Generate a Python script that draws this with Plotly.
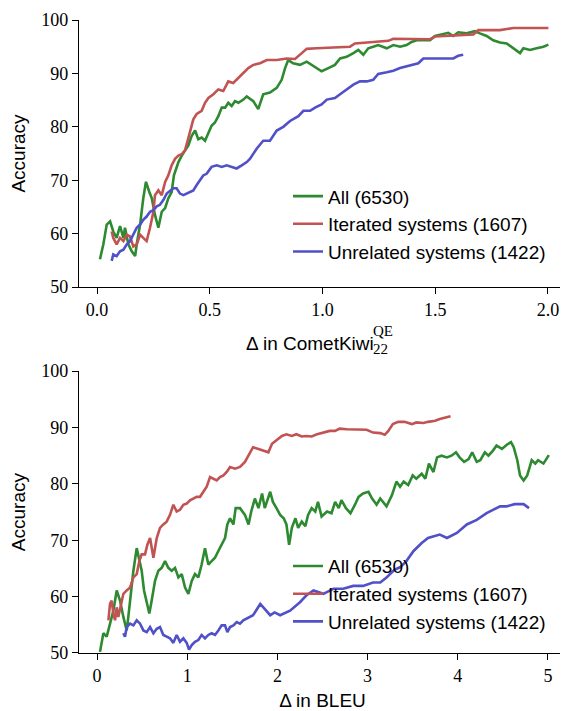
import plotly.graph_objects as go

# ---------------- data: top panel (Δ in CometKiwi22 QE) ----------------
top_all_x = [0.013, 0.028, 0.043, 0.058, 0.072, 0.087, 0.102, 0.117, 0.124, 0.139, 0.154, 0.169, 0.176, 0.191,
             0.205, 0.217, 0.232, 0.243, 0.257, 0.272, 0.287, 0.302, 0.316, 0.331, 0.341, 0.350, 0.361, 0.376,
             0.390, 0.405, 0.420, 0.435, 0.449, 0.464, 0.479, 0.494, 0.508, 0.523, 0.538, 0.553, 0.568, 0.582,
             0.597, 0.612, 0.627, 0.649, 0.664, 0.693, 0.715, 0.737, 0.767, 0.797, 0.819, 0.834, 0.848, 0.870,
             0.900, 0.930, 0.952, 0.974, 0.996, 1.026, 1.055, 1.078, 1.107, 1.137, 1.159, 1.181, 1.203, 1.225,
             1.247, 1.285, 1.314, 1.344, 1.373, 1.395, 1.418, 1.447, 1.477, 1.499, 1.528, 1.558, 1.580, 1.602,
             1.639, 1.676, 1.698, 1.728, 1.757, 1.787, 1.817, 1.846, 1.876, 1.891, 1.920, 1.950, 1.980, 2.002]
top_all_y = [55.2, 58.0, 61.7, 62.3, 60.4, 59.2, 61.4, 59.2, 61.1, 58.0, 56.7, 55.8, 58.0, 61.7,
             66.6, 69.7, 67.8, 66.6, 63.5, 61.1, 64.1, 64.8, 66.6, 67.8, 70.9, 72.2, 73.4, 74.6,
             75.6, 76.5, 78.3, 79.3, 77.7, 78.0, 77.4, 79.0, 80.2, 80.8, 82.0, 83.6, 83.6, 84.5,
             83.9, 84.8, 84.5, 85.1, 85.7, 84.8, 83.3, 86.1, 86.4, 87.3, 88.8, 91.0, 92.5, 91.9,
             91.6, 92.2, 91.6, 91.0, 90.4, 91.0, 91.6, 92.8, 93.1, 93.8, 94.4, 93.5, 94.7, 95.0,
             95.3, 94.7, 95.3, 95.0, 95.3, 95.9, 96.2, 96.2, 96.2, 97.0, 97.3, 97.6, 97.0, 97.7,
             97.5, 97.9, 97.5, 97.0, 96.2, 95.8, 95.6, 94.7, 93.8, 94.7, 94.4, 94.7, 95.0, 95.4]

top_iter_x = [0.065, 0.072, 0.087, 0.102, 0.117, 0.132, 0.146, 0.161, 0.176, 0.191, 0.205, 0.220, 0.235, 0.250,
              0.257, 0.272, 0.287, 0.302, 0.316, 0.331, 0.346, 0.361, 0.376, 0.390, 0.400, 0.412, 0.427, 0.442,
              0.464, 0.479, 0.494, 0.516, 0.538, 0.560, 0.582, 0.604, 0.627, 0.649, 0.671, 0.693, 0.723, 0.753,
              0.797, 0.841, 0.878, 0.908, 0.930, 0.974, 1.019, 1.078, 1.122, 1.144, 1.196, 1.255, 1.292, 1.314,
              1.373, 1.432, 1.477, 1.499, 1.565, 1.610, 1.669, 1.691, 1.787, 1.846, 2.002]
top_iter_y = [60.4, 59.2, 58.0, 59.2, 58.6, 59.8, 59.5, 57.6, 58.0, 59.8, 59.2, 58.6, 61.1, 64.1,
              67.2, 68.1, 67.2, 69.7, 70.9, 72.8, 74.0, 74.6, 74.9, 75.6, 77.1, 79.0, 81.4, 82.4,
              83.0, 84.5, 85.4, 86.1, 87.0, 86.7, 88.5, 88.2, 89.1, 90.1, 91.0, 91.6, 91.9, 92.5,
              92.5, 92.8, 92.7, 93.8, 94.6, 94.7, 94.8, 94.8, 95.0, 95.6, 95.8, 95.9, 96.1, 96.5,
              96.5, 96.5, 96.4, 96.9, 97.0, 97.2, 97.3, 98.1, 98.1, 98.5, 98.5]

top_unrel_x = [0.065, 0.072, 0.087, 0.102, 0.117, 0.132, 0.146, 0.161, 0.176, 0.191, 0.205, 0.220, 0.235, 0.250,
               0.265, 0.279, 0.294, 0.309, 0.324, 0.338, 0.353, 0.368, 0.383, 0.398, 0.412, 0.427, 0.442, 0.457,
               0.471, 0.486, 0.508, 0.531, 0.553, 0.575, 0.597, 0.619, 0.642, 0.664, 0.678, 0.708, 0.737, 0.767,
               0.797, 0.826, 0.856, 0.893, 0.915, 0.945, 0.967, 0.996, 1.019, 1.055, 1.078, 1.107, 1.137, 1.166,
               1.196, 1.225, 1.247, 1.285, 1.314, 1.344, 1.373, 1.403, 1.425, 1.447, 1.491, 1.580, 1.602, 1.624]
top_unrel_y = [54.9, 56.1, 55.8, 56.7, 57.0, 58.0, 58.6, 59.8, 61.1, 61.7, 62.6, 63.2, 64.1, 64.4,
               65.1, 65.4, 66.3, 67.5, 68.1, 68.5, 68.5, 67.5, 67.2, 67.5, 67.8, 68.1, 69.1, 70.0,
               70.9, 71.2, 72.5, 72.8, 72.5, 72.8, 72.5, 72.2, 72.8, 73.4, 74.0, 75.9, 77.4, 77.4,
               79.3, 80.0, 81.1, 82.0, 83.0, 83.0, 83.6, 84.2, 85.1, 85.4, 86.1, 87.0, 87.9, 88.5,
               88.5, 88.8, 89.9, 90.2, 90.5, 91.0, 91.3, 91.7, 91.9, 92.8, 92.8, 92.8, 93.3, 93.5]

# ---------------- data: bottom panel (Δ in BLEU) ----------------
bot_all_x = [0.033, 0.070, 0.107, 0.144, 0.181, 0.218, 0.255, 0.292, 0.329, 0.347, 0.366, 0.403, 0.440, 0.469,
             0.495, 0.521, 0.551, 0.580, 0.606, 0.643, 0.680, 0.717, 0.754, 0.791, 0.828, 0.865, 0.902, 0.939,
             0.976, 1.013, 1.050, 1.086, 1.123, 1.160, 1.197, 1.234, 1.271, 1.308, 1.345, 1.382, 1.419, 1.445,
             1.475, 1.512, 1.537, 1.585, 1.64, 1.68, 1.71, 1.75, 1.79, 1.83, 1.86, 1.92, 1.95, 1.99, 2.03,
             2.07, 2.10, 2.13, 2.16, 2.20, 2.23, 2.27, 2.31, 2.34, 2.38, 2.42, 2.45, 2.49, 2.55, 2.60, 2.64,
             2.68, 2.71, 2.76, 2.81, 2.86, 2.90, 2.95, 3.01, 3.05, 3.10, 3.14, 3.17, 3.21, 3.27, 3.32, 3.36,
             3.40, 3.45, 3.50, 3.54, 3.60, 3.64, 3.68, 3.73, 3.77, 3.82, 3.88, 3.93, 3.98, 4.02, 4.07, 4.12,
             4.16, 4.21, 4.25, 4.30, 4.34, 4.39, 4.43, 4.49, 4.54, 4.59, 4.62, 4.66, 4.69, 4.73, 4.77, 4.82,
             4.86, 4.89, 4.95, 5.01]
bot_all_y = [50.2, 53.5, 52.9, 55.2, 57.5, 61.1, 59.3, 56.4, 54.0, 56.4, 59.3, 64.6, 68.6, 66.3,
             64.6, 61.1, 58.7, 57.0, 59.3, 62.8, 64.6, 65.1, 66.3, 65.1, 64.6, 65.1, 63.4, 64.0,
             61.6, 60.5, 62.8, 64.0, 63.4, 65.7, 68.6, 65.7, 66.3, 66.9, 68.1, 69.2, 70.4, 72.8,
             73.9, 72.8, 75.7, 75.7, 74.5, 72.8, 75.1, 77.4, 75.7, 78.3, 75.7, 78.6, 76.8, 75.7, 74.5,
             73.9, 72.8, 69.2, 72.2, 73.9, 72.2, 73.3, 72.5, 74.5, 75.7, 75.1, 76.8, 74.2, 75.1, 74.8, 76.8,
             75.7, 77.1, 75.7, 74.8, 76.3, 77.7, 78.3, 78.6, 77.4, 76.3, 77.4, 76.8, 76.0, 78.0, 80.4, 79.5,
             80.4, 79.8, 81.5, 80.9, 81.8, 80.9, 83.6, 82.1, 84.7, 85.0, 84.7, 85.0, 85.6, 84.7, 83.9, 84.4,
             85.6, 83.9, 84.2, 85.6, 85.0, 85.9, 86.8, 86.2, 86.9, 87.4, 86.5, 84.2, 81.5, 80.6, 81.5, 84.2,
             83.6, 84.2, 83.6, 85.1]

bot_iter_x = [0.126, 0.144, 0.162, 0.181, 0.200, 0.218, 0.236, 0.273, 0.292, 0.329, 0.366, 0.403, 0.440, 0.469,
              0.495, 0.532, 0.558, 0.588, 0.625, 0.662, 0.698, 0.735, 0.772, 0.809, 0.846, 0.883, 0.920, 0.957,
              0.994, 1.031, 1.068, 1.105, 1.142, 1.179, 1.216, 1.253, 1.290, 1.327, 1.364, 1.401, 1.438, 1.475,
              1.530, 1.585, 1.64, 1.70, 1.73, 1.79, 1.84, 1.90, 1.94, 1.99, 2.05, 2.10, 2.16, 2.21, 2.27,
              2.32, 2.38, 2.44, 2.51, 2.58, 2.64, 2.69, 2.77, 2.84, 2.92, 2.99, 3.06, 3.14, 3.19, 3.23, 3.28,
              3.34, 3.41, 3.49, 3.54, 3.62, 3.67, 3.75, 3.80, 3.86, 3.92]
bot_iter_y = [55.8, 58.7, 59.3, 57.0, 55.8, 58.1, 56.4, 59.3, 60.5, 61.1, 61.6, 63.4, 64.0, 66.3,
              67.5, 67.5, 69.2, 70.4, 66.9, 70.4, 72.2, 72.8, 73.3, 74.5, 76.3, 75.1, 75.4, 76.3,
              76.5, 77.1, 77.4, 77.7, 77.7, 78.6, 79.5, 81.2, 80.9, 80.6, 81.2, 81.5, 82.1, 83.0,
              82.7, 83.0, 83.9, 85.6, 86.5, 86.2, 85.9, 85.6, 87.1, 87.7, 88.5, 88.8, 88.5, 88.8, 88.4,
              88.5, 88.4, 88.8, 89.1, 89.4, 89.4, 89.8, 89.7, 89.7, 89.7, 89.6, 89.1, 89.0, 88.7, 89.4, 90.6,
              91.0, 91.0, 90.6, 90.9, 90.8, 91.0, 91.2, 91.5, 91.8, 92.0]

bot_unrel_x = [0.292, 0.310, 0.329, 0.366, 0.403, 0.440, 0.477, 0.514, 0.551, 0.588, 0.625, 0.662, 0.698, 0.735,
               0.772, 0.809, 0.846, 0.883, 0.920, 0.957, 0.994, 1.020, 1.050, 1.086, 1.123, 1.160, 1.197, 1.234,
               1.271, 1.308, 1.345, 1.382, 1.419, 1.445, 1.475, 1.512, 1.549, 1.585, 1.622, 1.660, 1.689, 1.73,
               1.81, 1.86, 1.92, 1.97, 2.03, 2.14, 2.25, 2.32, 2.40, 2.51, 2.62, 2.73, 2.84, 2.95, 3.06,
               3.14, 3.21, 3.30, 3.36, 3.43, 3.51, 3.60, 3.67, 3.80, 3.88, 3.99, 4.10, 4.21, 4.32, 4.39,
               4.47, 4.54, 4.63, 4.73, 4.79]
bot_unrel_y = [53.5, 52.9, 54.6, 55.2, 54.9, 55.8, 55.2, 54.0, 53.7, 54.6, 53.5, 54.3, 54.6, 53.2,
               52.9, 52.6, 51.8, 53.2, 52.0, 52.6, 51.8, 50.6, 51.4, 52.0, 52.3, 53.2, 52.6, 53.2,
               53.5, 53.2, 54.0, 54.9, 54.9, 53.7, 54.6, 54.9, 55.5, 55.2, 55.8, 56.1, 56.4, 56.7,
               58.7, 57.8, 56.7, 57.2, 56.7, 57.5, 59.0, 60.2, 61.1, 60.5, 61.4, 61.4, 61.9, 61.9, 62.5,
               62.5, 63.4, 64.8, 65.2, 66.3, 68.1, 69.5, 70.4, 71.0, 70.4, 71.3, 72.8, 73.6, 74.8, 75.4,
               76.0, 76.0, 76.4, 76.4, 75.7]

series_names = ["All (6530)", "Iterated systems (1607)", "Unrelated systems (1422)"]
series_colors = ["#2e8a30", "#c25353", "#5050c8"]

y_ticks = [50, 60, 70, 80, 90, 100]
top_x_ticks = [0.0, 0.5, 1.0, 1.5, 2.0]
bot_x_ticks = [0, 1, 2, 3, 4, 5]

# ---------------- figure ----------------
# the page body adds an 8px offset; figure sized so plot areas land on the target pixels
OFF = 8
W, H = 560, 703
ML, MR, MT, MB = 71, 2, 5, 58
PW, PH = W - ML - MR, H - MT - MB


def px_x(px):
    return (px - OFF - ML) / PW


def px_y(py):
    return (OFF + H - MB - py) / PH


SANS = "Liberation Sans"
SERIF = "Liberation Serif"

fig = go.Figure()
top_data = [(top_all_x, top_all_y), (top_iter_x, top_iter_y), (top_unrel_x, top_unrel_y)]
bot_data = [(bot_all_x, bot_all_y), (bot_iter_x, bot_iter_y), (bot_unrel_x, bot_unrel_y)]
for (xs, ys), name, col in zip(top_data, series_names, series_colors):
    fig.add_trace(go.Scatter(x=xs, y=ys, mode="lines", name=name, line=dict(color=col, width=2.6),
                             xaxis="x", yaxis="y", legend="legend"))
for (xs, ys), name, col in zip(bot_data, series_names, series_colors):
    fig.add_trace(go.Scatter(x=xs, y=ys, mode="lines", name=name, line=dict(color=col, width=2.6),
                             xaxis="x2", yaxis="y2", legend="legend2"))

axis_common = dict(showline=True, linecolor="black", linewidth=1.3, ticks="outside", ticklen=6,
                   tickwidth=1.3, tickcolor="black", showgrid=False, zeroline=False,
                   tickfont=dict(family=SERIF, size=18, color="black"))

top_dom = [px_y(283), px_y(13)]
bot_dom = [px_y(653), px_y(368)]

fig.update_layout(
    width=W, height=H,
    margin=dict(l=ML, r=MR, t=MT, b=MB),
    paper_bgcolor="white", plot_bgcolor="white",
    font=dict(family=SANS, size=19, color="black"),
    xaxis=dict(domain=[0, 1], anchor="y", range=[-0.08, 2.08], tickvals=top_x_ticks,
               ticktext=[f"{v:.1f}" for v in top_x_ticks], **axis_common),
    yaxis=dict(domain=top_dom, anchor="x", range=[50, 100], tickvals=y_ticks,
               title=dict(text="Accuracy", font=dict(family=SANS, size=19), standoff=10), **axis_common),
    xaxis2=dict(domain=[0, 1], anchor="y2", range=[-0.2, 5.2], tickvals=bot_x_ticks,
                title=dict(text="Δ in BLEU", font=dict(family=SANS, size=19), standoff=10), **axis_common),
    yaxis2=dict(domain=bot_dom, anchor="x2", range=[50, 100], tickvals=y_ticks,
                title=dict(text="Accuracy", font=dict(family=SANS, size=19), standoff=10), **axis_common),
    legend=dict(x=px_x(288), y=px_y(172), xanchor="left", yanchor="top", bgcolor="rgba(0,0,0,0)",
                font=dict(family=SANS, size=19), tracegroupgap=0),
    legend2=dict(x=px_x(288), y=px_y(546), xanchor="left", yanchor="top", bgcolor="rgba(0,0,0,0)",
                 font=dict(family=SANS, size=19), tracegroupgap=0),
    showlegend=True,
)

# x-axis label for the top panel: "Δ in CometKiwi" with stacked sub/superscript
fig.add_annotation(text="Δ in CometKiwi", xref="paper", yref="paper", x=px_x(245), y=px_y(340),
                   xanchor="left", yanchor="middle", showarrow=False, borderpad=0,
                   font=dict(family=SANS, size=19, color="black"))
fig.add_annotation(text="QE", xref="paper", yref="paper", x=px_x(372), y=px_y(327),
                   xanchor="left", yanchor="middle", showarrow=False, borderpad=0,
                   font=dict(family=SERIF, size=15, color="black"))
fig.add_annotation(text="22", xref="paper", yref="paper", x=px_x(372), y=px_y(346),
                   xanchor="left", yanchor="middle", showarrow=False, borderpad=0,
                   font=dict(family=SERIF, size=15, color="black"))

fig.write_html("out.html")
